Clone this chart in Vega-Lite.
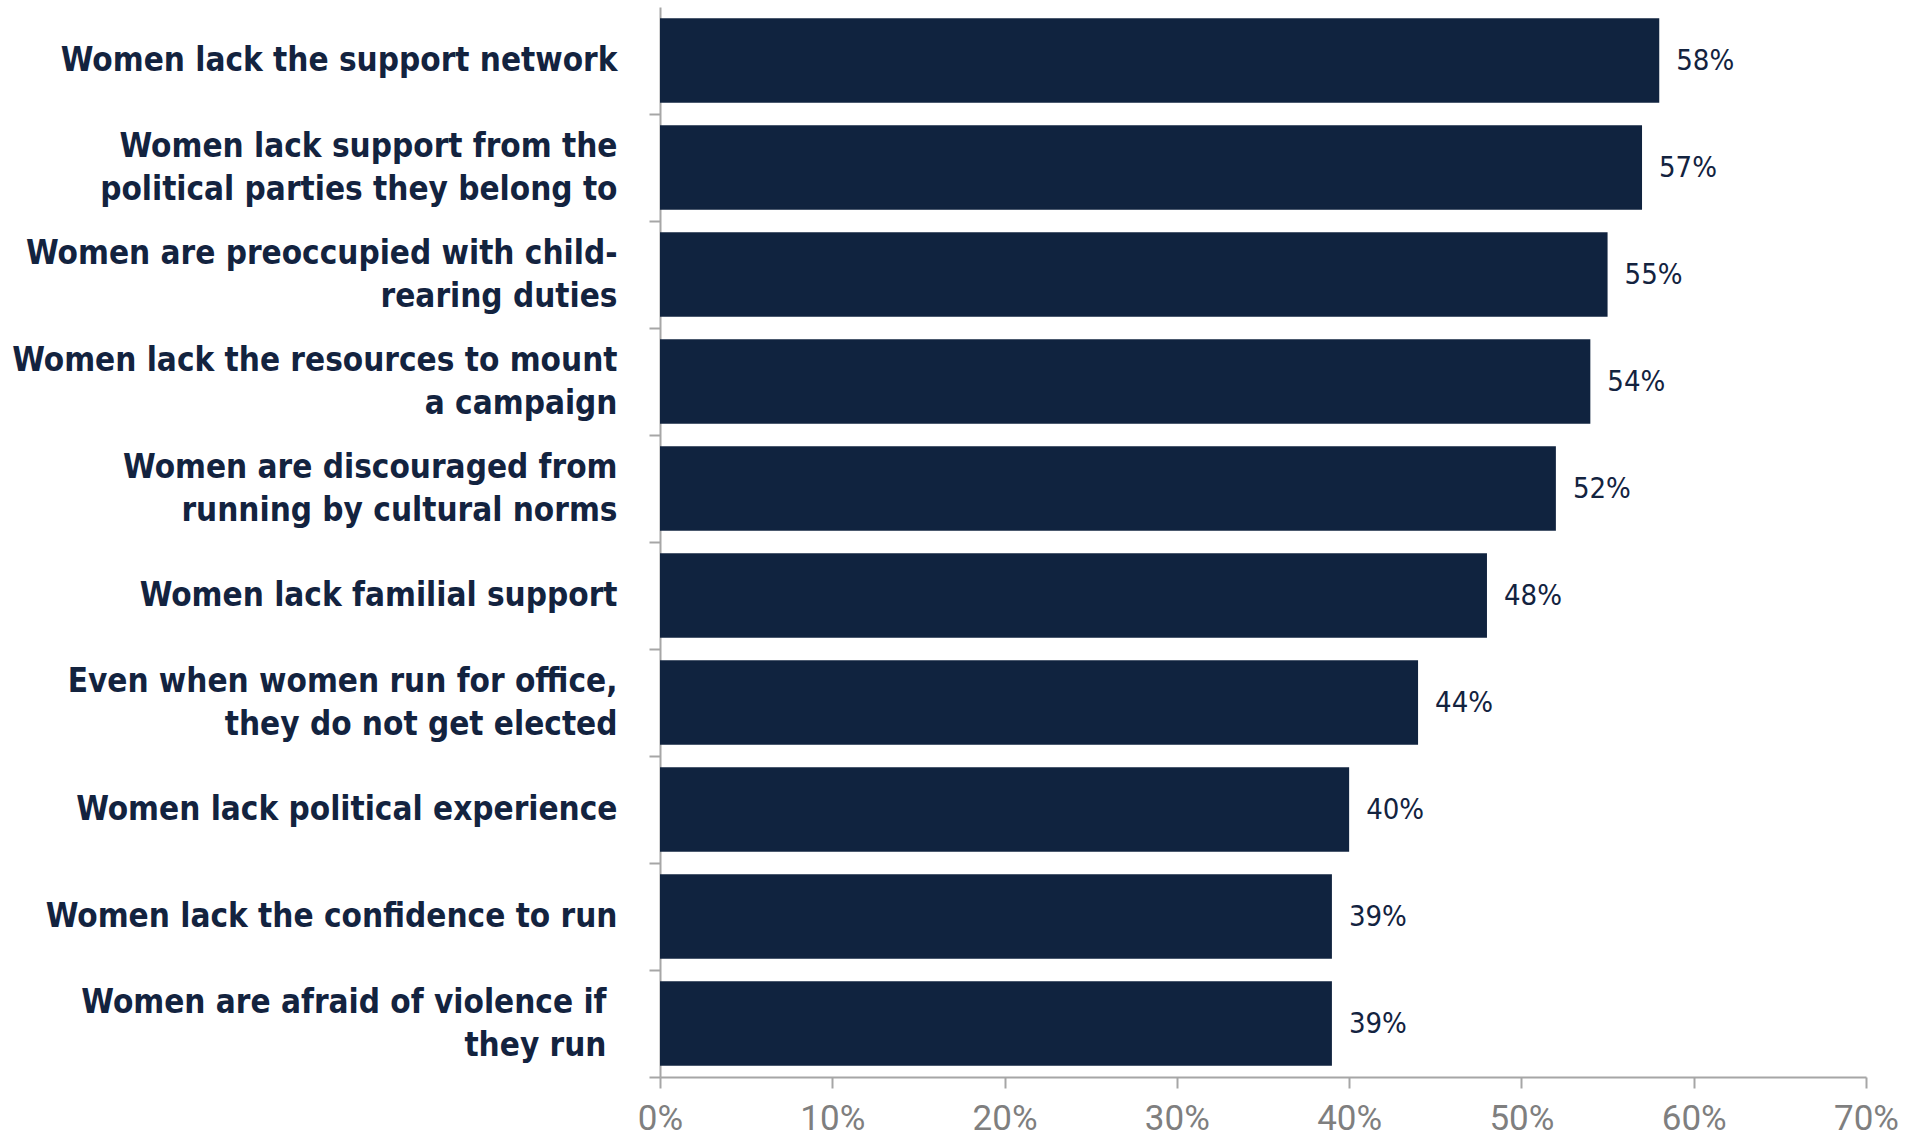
{
  "$schema": "https://vega.github.io/schema/vega-lite/v6.json",
  "width": 1206,
  "height": 1070,
  "autosize": "none",
  "padding": {"left": 660, "top": 7, "right": 49, "bottom": 61},
  "background": "white",
  "config": {"view": {"stroke": null}},
  "data": {
    "values": [
      {"reason": "Women lack the support network", "share": 0.58},
      {"reason": "Women lack support from the|political parties they belong to", "share": 0.57},
      {"reason": "Women are preoccupied with child-|rearing duties", "share": 0.55},
      {"reason": "Women lack the resources to mount|a campaign", "share": 0.54},
      {"reason": "Women are discouraged from|running by cultural norms", "share": 0.52},
      {"reason": "Women lack familial support", "share": 0.48},
      {"reason": "Even when women run for office,|they do not get elected", "share": 0.44},
      {"reason": "Women lack political experience", "share": 0.40},
      {"reason": "Women lack the confidence to run", "share": 0.39},
      {"reason": "Women are afraid of violence if|they run", "share": 0.39}
    ]
  },
  "encoding": {
    "y": {
      "field": "reason",
      "type": "nominal",
      "sort": null,
      "scale": {"paddingInner": 0.21, "paddingOuter": 0.105},
      "axis": {
        "title": null,
        "bandPosition": 1,
        "tickOffset": 11.2,
        "labelOffset": {"condition": {"test": "indexof(datum.value, '|') >= 0", "value": -32.7}, "value": -11.2},
        "domainColor": "#a6a6a6",
        "domainWidth": 2,
        "tickColor": "#a6a6a6",
        "tickWidth": 2,
        "tickSize": 11,
        "labelPadding": {"condition": {"test": "indexof(datum.value, 'violence') >= 0", "value": 43}, "value": 32},
        "labelBaseline": "middle",
        "labelFont": "DejaVu Sans Condensed, DejaVu Sans",
        "labelFontWeight": "bold",
        "labelFontSize": 33,
        "labelColor": "#13233f",
        "labelLimit": 0,
        "labelLineHeight": 43,
        "labelExpr": "datum.value ? split(datum.value, '|') : ''"
      }
    },
    "x": {
      "field": "share",
      "type": "quantitative",
      "scale": {"domain": [0, 0.7], "nice": false},
      "axis": {
        "title": null,
        "grid": false,
        "values": [0, 0.1, 0.2, 0.3, 0.4, 0.5, 0.6, 0.7],
        "format": ".0%",
        "labelFlush": false,
        "domainColor": "#a6a6a6",
        "domainWidth": 2,
        "tickColor": "#a6a6a6",
        "tickWidth": 2,
        "tickSize": 11,
        "labelPadding": 13,
        "labelFont": "Roboto",
        "labelFontSize": 35,
        "labelColor": "#7f7f7f"
      }
    }
  },
  "layer": [
    {"mark": {"type": "bar", "color": "#10233f"}},
    {
      "mark": {
        "type": "text",
        "align": "left",
        "baseline": "middle",
        "dx": 17,
        "font": "DejaVu Sans Condensed, DejaVu Sans",
        "fontSize": 29,
        "color": "#13233f"
      },
      "encoding": {"text": {"field": "share", "type": "quantitative", "format": ".0%"}}
    }
  ]
}
